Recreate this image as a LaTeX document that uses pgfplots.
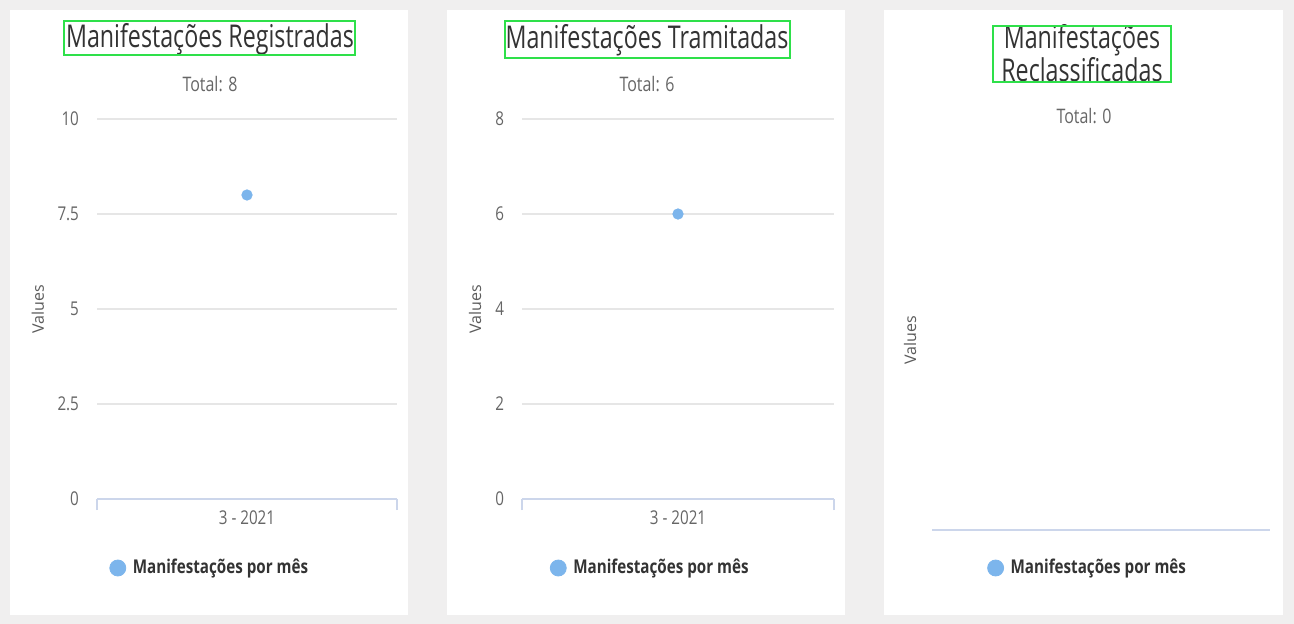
\documentclass[border=0pt]{standalone}
\usepackage{pgfplots}
\pgfplotsset{compat=1.18}
\usepackage{fontspec}
\setmainfont{Open Sans}[FakeStretch=0.8]
\newfontfamily\titf{Open Sans}[FakeStretch=0.74]
\newfontfamily\condf{Open Sans}[FakeStretch=0.8]
\newfontfamily\valf{Open Sans}
\definecolor{bgc}{HTML}{F0EFEF}
\definecolor{hcblue}{HTML}{7CB5EC}
\definecolor{titc}{HTML}{333333}
\definecolor{tickc}{HTML}{666666}
\definecolor{gridc}{HTML}{E6E6E6}
\definecolor{axc}{HTML}{CCD6EB}
\definecolor{boxc}{HTML}{2EE04A}
\pgfplotsset{
  hc/.style={
    scale only axis, anchor=south west, clip=false,
    xmin=0, xmax=2, ymin=0,
    axis x line*=bottom, axis y line*=left,
    y axis line style={draw=none},
    x axis line style={draw=axc, line width=0.6pt},
    ymajorgrids, grid style={draw=gridc, line width=0.6pt},
    major tick length=0pt,
    /pgf/number format/assume math mode=true,
    tick label style={font=\condf\fontsize{9.5}{11}\selectfont, text=tickc},
    yticklabel style={xshift=-5.5pt},
    xticklabel style={yshift=-2.5pt},
    ylabel={Values},
    ylabel style={font=\valf\fontsize{8}{9}\selectfont, text=tickc!90!black, anchor=center, rotate=0},
    legend style={draw=none, fill=none, font=\condf\bfseries\fontsize{9.5}{11}\selectfont, text=titc, anchor=center,
      /tikz/every odd column/.append style={column sep=1.5pt}},
    legend cell align=left,
  },
  cats/.style={
    xtick={1}, xticklabels={3 - 2021},
    extra x ticks={0,2}, extra x tick labels={},
    extra x tick style={major tick length=5.5pt, tick align=outside, tick style={draw=axc, line width=0.6pt}},
  }
}
\begin{document}
\begin{tikzpicture}
\begin{scope}[x=0.5pt,y=-0.5pt]
\fill[bgc] (0,0) rectangle (1294,624);
\useasboundingbox (0,0) rectangle (1294,624);
\fill[white] (10,10) rectangle (408,615);
\fill[white] (447,10) rectangle (845,615);
\fill[white] (884,10) rectangle (1283,615);
% titles
\node[font=\titf\fontsize{15.7}{18}\selectfont, text=titc] at (210,39) {Manifestações Registradas};
\draw[boxc, line width=1.4pt] (64,21) rectangle (355,55);
\node[font=\condf\fontsize{10}{12}\selectfont, text=tickc] at (210,84) {Total: 8};
\node[font=\titf\fontsize{15.7}{18}\selectfont, text=titc] at (647,40) {Manifestações Tramitadas};
\draw[boxc, line width=1.4pt] (505,21) rectangle (790,58);
\node[font=\condf\fontsize{10}{12}\selectfont, text=tickc] at (647,84) {Total: 6};
\node[font=\titf\fontsize{15.7}{15}\selectfont, text=titc, align=center] at (1082,53) {Manifestações\\Reclassificadas};
\draw[boxc, line width=1.4pt] (993,26) rectangle (1171,82);
\node[font=\condf\fontsize{10}{12}\selectfont, text=tickc] at (1084,116) {Total: 0};
\end{scope}

% panel 1
\begin{axis}[hc, cats, at={(97*0.5pt,-499*0.5pt)}, width=150pt, height=190pt,
  ymax=10, ytick={0,2.5,5,7.5,10}, yticklabels={0,2.5,5,7.5,10},
  ylabel style={at={(axis description cs:-0.1967,0.5)}},
  legend style={at={(axis description cs:0.38,-0.1816)}}]
\addplot[only marks, mark=*, color=hcblue, mark size=2.6pt, forget plot] coordinates {(1,8)};
\addlegendimage{only marks, mark=*, color=hcblue, mark size=4pt}
\addlegendentry{Manifestações por mês}
\end{axis}

% panel 2
\begin{axis}[hc, cats, at={(522*0.5pt,-499*0.5pt)}, width=156pt, height=190pt,
  ymax=8, ytick={0,2,4,6,8},
  ylabel style={at={(axis description cs:-0.150,0.5)}},
  legend style={at={(axis description cs:0.415,-0.1816)}}]
\addplot[only marks, mark=*, color=hcblue, mark size=2.6pt, forget plot] coordinates {(1,6)};
\addlegendimage{only marks, mark=*, color=hcblue, mark size=4pt}
\addlegendentry{Manifestações por mês}
\end{axis}

% panel 3
\begin{axis}[hc, at={(932*0.5pt,-530*0.5pt)}, width=169pt, height=190pt,
  ymax=1, ytick=\empty, xtick=\empty, ymajorgrids=false,
  ylabel style={at={(axis description cs:-0.065,0.5)}},
  legend style={at={(axis description cs:0.464,-0.1)}}]
\addlegendimage{only marks, mark=*, color=hcblue, mark size=4pt}
\addlegendentry{Manifestações por mês}
\end{axis}
\end{tikzpicture}
\end{document}
